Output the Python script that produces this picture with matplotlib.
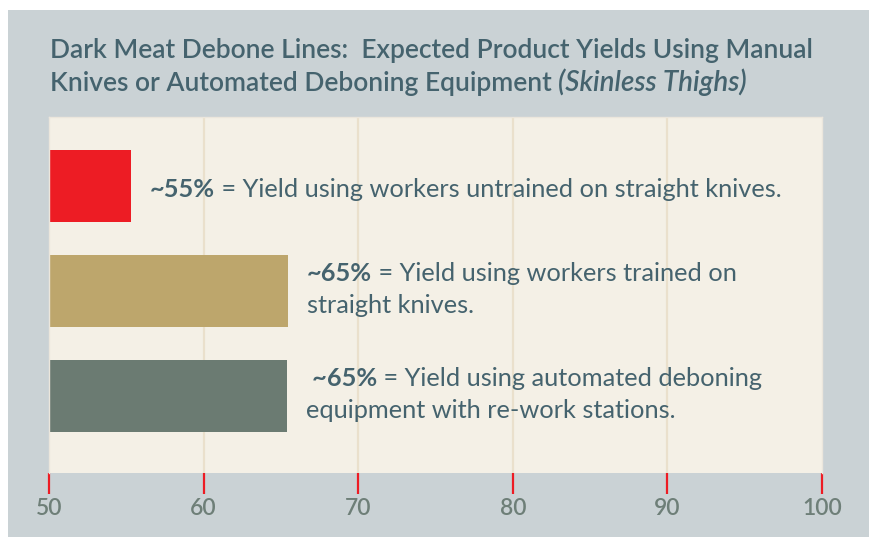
import matplotlib
matplotlib.use("Agg")
import matplotlib.pyplot as plt
from matplotlib.patches import Rectangle

# ---- data ----
categories = ["untrained", "trained", "automated"]
values = [55.3, 65.45, 65.4]
bar_colors = ["#ed1c24", "#bda66c", "#6b7b72"]
bold_labels = ["~55%", "~65%", " ~65%"]
line1_rest = [" = Yield using workers untrained on straight knives.",
              " = Yield using workers trained on",
              " = Yield using automated deboning"]
line2_text = ["", "straight knives.", "equipment with re-work stations."]
xticks = [50, 60, 70, 80, 90, 100]
title_line1 = "Dark Meat Debone Lines:  Expected Product Yields Using Manual"
title_line2 = "Knives or Automated Deboning Equipment "
title_italic = "(Skinless Thighs)"

FONT = "Lato"
TEXT_C = "#45636e"
W, H = 869, 537

fig = plt.figure(figsize=(W / 100, H / 100), dpi=100)
fig.patch.set_facecolor("white")
bg = Rectangle((8 / W, 0), 1 - 8 / W, (H - 10) / H,
               transform=fig.transFigure, facecolor="#cad2d5",
               edgecolor="none", zorder=-10)
fig.add_artist(bg)

ax = fig.add_axes([49 / W, 1 - 473 / H, (822 - 49) / W, (473 - 117) / H])
ax.set_zorder(2)
ax.set_facecolor("#f4f0e6")
ax.set_xlim(50, 100)
ypos = list(range(len(categories)))
ax.set_ylim(2.733, -0.657)

for g in xticks[1:-1]:
    ax.axvline(g, color="#eae0cc", lw=1.6, zorder=1)

ax.barh(ypos, [v - 50 for v in values], left=50, height=0.686,
        color=bar_colors, zorder=2)

AS = 18.3
for i, v in enumerate(values):
    if line2_text[i]:
        dy1, dy2 = 10, -22
    else:
        dy1, dy2 = -11, 0
    b = ax.annotate(bold_labels[i], xy=(v, ypos[i]), xytext=(19, dy1),
                    textcoords="offset pixels", fontweight="bold",
                    fontsize=AS, family=FONT, color=TEXT_C,
                    va="baseline", ha="left", zorder=3)
    ax.annotate(line1_rest[i], xy=(1, 0), xycoords=b, fontsize=AS,
                family=FONT, color=TEXT_C, va="bottom", ha="left", zorder=3)
    if line2_text[i]:
        ax.annotate(line2_text[i], xy=(v, ypos[i]), xytext=(19, dy2),
                    textcoords="offset pixels", fontsize=AS, family=FONT,
                    color=TEXT_C, va="baseline", ha="left", zorder=3)

ax.set_yticks([])
ax.set_xticks(xticks)
ax.set_xticklabels([str(t) for t in xticks], fontsize=16.5, family=FONT,
                   fontweight="semibold", color="#6e7f78")
ax.tick_params(axis="x", direction="out", length=15, width=1.6,
               color="#ed1c24", pad=3)
for s in ["top", "right", "bottom", "left"]:
    ax.spines[s].set_color("#ebe6dc")
    ax.spines[s].set_linewidth(1)
ax.spines["bottom"].set_visible(False)

TS = 19
t1 = fig.text(50 / W, 1 - 58 / H, title_line1, fontsize=TS, fontweight="semibold",
              family=FONT, color=TEXT_C, va="baseline", ha="left")
t2 = fig.text(50 / W, 1 - 91 / H, title_line2, fontsize=TS, fontweight="semibold",
              family=FONT, color=TEXT_C, va="baseline", ha="left")
ax.annotate(title_italic, xy=(1, 0), xycoords=t2, fontsize=TS + 1, style="italic",
            fontweight="semibold", family=FONT, color=TEXT_C, va="bottom",
            ha="left", annotation_clip=False)

fig.savefig("out.png", dpi=100)
